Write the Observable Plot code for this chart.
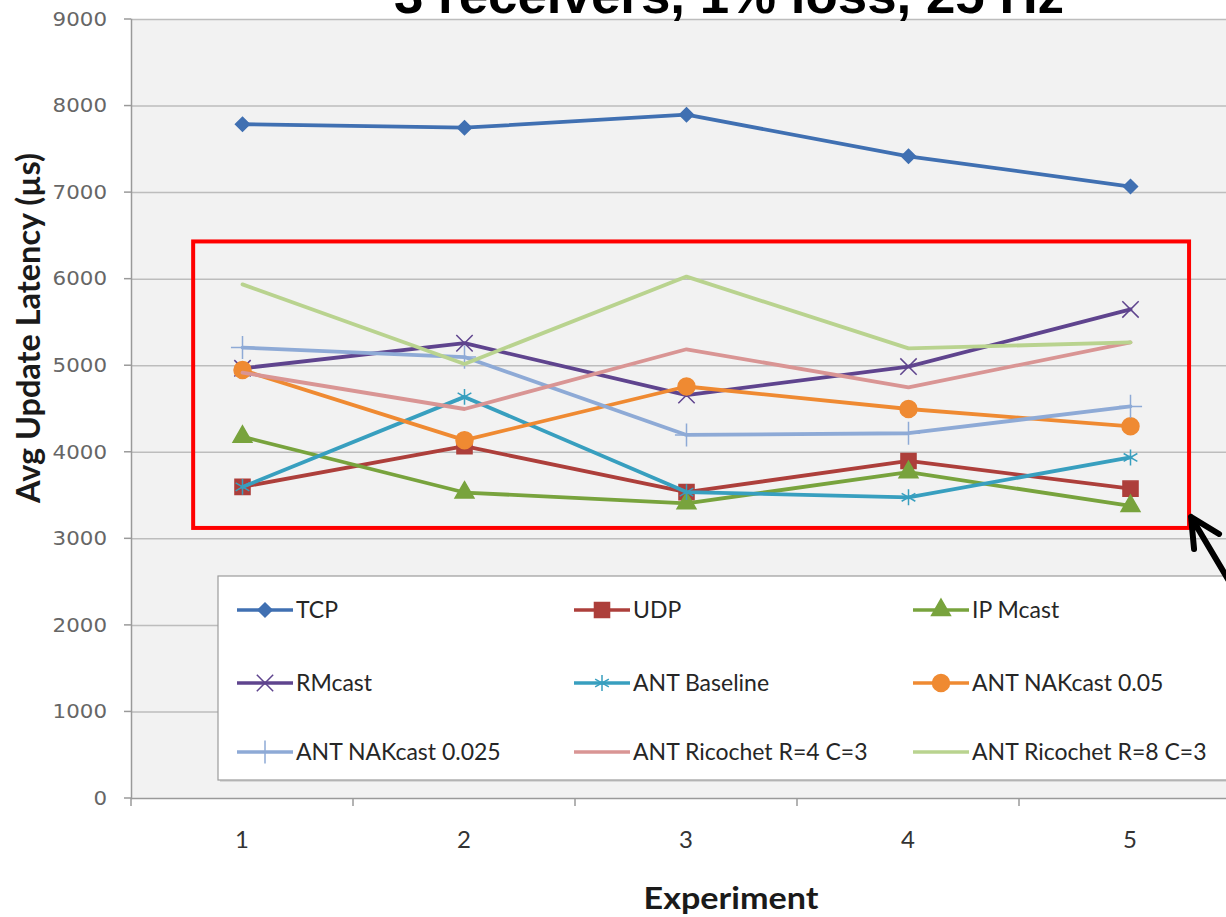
<!DOCTYPE html>
<html><head><meta charset="utf-8">
<script src="https://cdn.jsdelivr.net/npm/d3@7"></script>
<script src="https://cdn.jsdelivr.net/npm/@observablehq/plot@0.6"></script>
<style>
html,body{margin:0;padding:0;background:#fff;overflow:hidden;width:1226px;height:917px}
#wrap{position:relative;width:1226px;height:917px;overflow:hidden}
#wrap svg{max-width:none !important}
</style></head><body><div id="wrap"></div>
<script>
// ---- data ----
const experiments = [1, 2, 3, 4, 5];
const seriesNames = ["TCP", "UDP", "IP Mcast", "RMcast", "ANT Baseline", "ANT NAKcast 0.05", "ANT NAKcast 0.025", "ANT Ricochet R=4 C=3", "ANT Ricochet R=8 C=3"];
const tcp         = [7790, 7750, 7900, 7420, 7070];
const udp         = [3600, 4070, 3540, 3900, 3580];
const ipMcast     = [4180, 3535, 3410, 3770, 3380];
const rmcast      = [4970, 5260, 4660, 4990, 5650];
const antBaseline = [3600, 4640, 3540, 3480, 3940];
const nakcast005  = [4950, 4140, 4760, 4500, 4300];
const nakcast0025 = [5210, 5100, 4200, 4220, 4530];
const ricochetR4  = [4920, 4500, 5190, 4750, 5270];
const ricochetR8  = [5940, 5020, 6030, 5200, 5270];
const yTicks = [0, 1000, 2000, 3000, 4000, 5000, 6000, 7000, 8000, 9000];
const titleText = "3 receivers, 1% loss, 25 Hz";
const yLabel = "Avg Update Latency (µs)";
const xLabel = "Experiment";
const highlightRange = [3120, 6430];

const seriesValues = [tcp, udp, ipMcast, rmcast, antBaseline, nakcast005, nakcast0025, ricochetR4, ricochetR8];
const data = seriesNames.flatMap((s, i) => experiments.map((e, j) => ({series: s, experiment: e, latency: seriesValues[i][j]})));

// ---- styles ----
const colors = ["#4070b2", "#ad3f3b", "#78a33d", "#5f448e", "#389fbf", "#ef8a32", "#8eaad6", "#d99594", "#b9d38f"];
const markers = [
  {symbol: "diamond2", r: 6.3, filled: true},
  {symbol: "square", r: 8.5, filled: true},
  {symbol: "triangle", r: 7, filled: true},
  {symbol: "times", r: 7.5, filled: false},
  {symbol: "asterisk", r: 7.5, filled: false},
  {symbol: "circle", r: 8.5, filled: true},
  {symbol: "plus", r: 7.5, filled: false},
  null, null
];
const symbolMap = {diamond2: d3.symbolDiamond2, square: d3.symbolSquare, triangle: d3.symbolTriangle, times: d3.symbolTimes, asterisk: d3.symbolAsterisk, circle: d3.symbolCircle, plus: d3.symbolPlus};
const labelFont = "Lato";

const W = 1260, H = 917;

function axisTicks(index, scales, values, dims) {
  const g = d3.create("svg:g");
  const lines = g.append("g").attr("stroke", "#9a9a9a").attr("stroke-width", 1.5);
  const xs = experiments.map(e => scales.x(e));
  const bw = xs[1] - xs[0];
  const edges = [...xs, xs[xs.length - 1] + bw];
  const y0 = scales.y(0);
  for (const x of edges) lines.append("line").attr("x1", x).attr("x2", x).attr("y1", y0).attr("y2", y0 + 8);
  const x0 = dims.marginLeft;
  for (const t of yTicks) lines.append("line").attr("x1", x0 - 7).attr("x2", x0).attr("y1", scales.y(t)).attr("y2", scales.y(t));
  // y tick labels (wide Verdana-like digits)
  for (const t of yTicks) {
    const s = String(t);
    g.append("text").attr("x", x0 - 24).attr("y", scales.y(t)).attr("dy", "0.34em").attr("text-anchor", "end")
      .attr("font-family", "DejaVu Sans, Liberation Sans, sans-serif").attr("font-size", 20).attr("fill", "#666")
      .attr("textLength", 13.6 * s.length).attr("lengthAdjust", "spacingAndGlyphs").text(s);
  }
  // x tick labels
  experiments.forEach((e, i) => {
    g.append("text").attr("x", xs[i] + bw / 2).attr("y", y0 + 42).attr("dy", "0.35em").attr("text-anchor", "middle")
      .attr("font-family", labelFont).attr("font-size", 24).attr("fill", "#333").text(String(e));
  });
  return g.node();
}

function legendMark(index, scales, values, dims) {
  const g = d3.create("svg:g").attr("text-anchor", "start");
  const left = dims.marginLeft + 87, top = 576, bottom = 780;
  g.append("rect").attr("x", left + 2).attr("y", top + 2).attr("width", 1040).attr("height", bottom - top).attr("fill", "#d8d8d8");
  g.append("rect").attr("x", left).attr("y", top).attr("width", 1040).attr("height", bottom - top).attr("fill", "#fff").attr("stroke", "#9c9c9c").attr("stroke-width", 1.2);
  const colX = [19, 356, 695], rowY = [34, 107, 176];
  seriesNames.forEach((s, i) => {
    const cx = left + colX[i % 3], cy = top + rowY[Math.floor(i / 3)];
    const c = colors[i];
    g.append("line").attr("x1", cx).attr("x2", cx + 56).attr("y1", cy).attr("y2", cy).attr("stroke", c).attr("stroke-width", 3.5);
    const m = markers[i];
    if (m) {
      const sym = d3.symbol(symbolMap[m.symbol], Math.PI * m.r * m.r);
      g.append("path").attr("d", sym()).attr("transform", `translate(${cx + 28},${cy})`)
        .attr("fill", m.filled ? c : "none").attr("stroke", c).attr("stroke-width", 1.5);
    }
    g.append("text").attr("x", cx + 59).attr("y", cy).attr("dy", "0.36em").attr("text-anchor", "start").text(s)
      .attr("font-family", labelFont).attr("font-size", 23).attr("fill", "#262626");
  });
  return g.node();
}

function annotations(index, scales, values, dims) {
  const g = d3.create("svg:g");
  const xs = experiments.map(e => scales.x(e));
  const bw = xs[1] - xs[0];
  const x1 = xs[0] + 0.28 * bw, x2 = xs[4] + 0.766 * bw;
  const yTop = scales.y(highlightRange[1]), yBot = scales.y(highlightRange[0]);
  g.append("rect").attr("x", x1).attr("y", yTop).attr("width", x2 - x1).attr("height", yBot - yTop)
    .attr("fill", "none").attr("stroke", "#ff0000").attr("stroke-width", 4);
  const tx = x2 + 2, ty = yBot - 11;
  g.append("path").attr("d", `M${tx + 28},${ty + 17} L${tx},${ty} L${tx + 3},${ty + 32} M${tx},${ty} L${tx + 70},${ty + 118}`)
    .attr("fill", "none").attr("stroke", "#000").attr("stroke-width", 6).attr("stroke-linecap", "round").attr("stroke-linejoin", "round");
  // title (cropped at top edge as in the source), axis titles
  g.append("text").attr("x", 729).attr("y", 13).attr("text-anchor", "middle").text(titleText)
    .attr("font-family", "Liberation Sans").attr("font-weight", "bold").attr("font-size", 52)
    .attr("textLength", 670).attr("lengthAdjust", "spacingAndGlyphs").attr("fill", "#000");
  g.append("text").attr("transform", `translate(29,328) rotate(-90)`)
    .attr("text-anchor", "middle").attr("dy", "0.35em").text(yLabel)
    .attr("font-family", labelFont).attr("font-weight", "bold").attr("font-size", 32)
    .attr("textLength", 350).attr("lengthAdjust", "spacingAndGlyphs").attr("fill", "#1a1a1a");
  g.append("text").attr("x", 731).attr("y", 898).attr("text-anchor", "middle").attr("dy", "0.35em").text(xLabel)
    .attr("font-family", labelFont).attr("font-weight", "bold").attr("font-size", 31)
    .attr("textLength", 175).attr("lengthAdjust", "spacingAndGlyphs").attr("fill", "#1a1a1a");
  return g.node();
}

const seriesMarks = seriesNames.flatMap((s, i) => {
  const sub = data.filter(d => d.series === s);
  const out = [Plot.line(sub, {x: "experiment", y: "latency", stroke: "series", strokeWidth: 3.8, strokeLinejoin: "round"})];
  const m = markers[i];
  if (m) out.push(Plot.dot(sub, {x: "experiment", y: "latency", symbol: m.symbol, r: m.r,
    fill: m.filled ? "series" : "none", stroke: "series", strokeWidth: 1.5}));
  return out;
});

const chart = Plot.plot({
  width: W, height: H,
  marginTop: 19, marginBottom: 119, marginLeft: 131, marginRight: W - 1241,
  x: {type: "band", domain: experiments, padding: 0, axis: null},
  y: {domain: [0, 9000], axis: null},
  color: {domain: seriesNames, range: colors},
  style: {background: "transparent", overflow: "visible", maxWidth: "none"},
  marks: [
    Plot.frame({fill: "#f2f2f2", stroke: null}),
    Plot.ruleY(yTicks.filter(d => d > 0), {stroke: "#bdbdbd", strokeWidth: 1.5}),
    Plot.ruleY([0], {stroke: "#9a9a9a", strokeWidth: 1.5}),
    Plot.frame({anchor: "left", stroke: "#9a9a9a", strokeWidth: 1.5}),
    axisTicks,
    legendMark,
    ...seriesMarks,
    annotations
  ]
});
document.getElementById("wrap").appendChild(chart);
</script></body></html>
